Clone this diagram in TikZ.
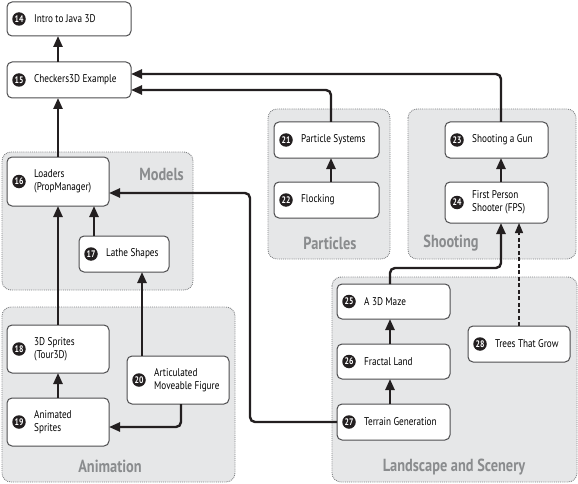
\documentclass[tikz,border=0pt]{standalone}
\usepackage{fontspec}
\setmainfont[FakeStretch=0.82]{PT Sans}
\usetikzlibrary{arrows.meta,calc}
\definecolor{grpfill}{HTML}{E6E7E8}
\definecolor{grpline}{HTML}{808285}
\definecolor{boxline}{HTML}{4D4D4F}
\definecolor{arrcol}{HTML}{231F20}
\definecolor{grplabel}{HTML}{8A8C8E}
\tikzset{
  grp/.style={fill=grpfill, draw=grpline, densely dotted, line width=0.9pt, rounded corners=9pt},
  grplbl/.style={font=\fontsize{17.5}{18}\selectfont\bfseries, text=grplabel, inner sep=0pt},
  box/.style={draw=boxline, fill=white, line width=1pt, rounded corners=5pt, inner sep=0pt, outer sep=0pt},
  numc/.style={circle, fill=arrcol, text=white, minimum size=13.5pt, inner sep=0pt, font=\fontsize{9.5}{10}\selectfont\bfseries},
  lbl/.style={anchor=west, align=left, inner sep=0pt, font=\fontsize{11.2}{12.6}\selectfont, text=black},
  arr/.style={draw=arrcol, line width=2.4pt, -{Triangle[width=9pt,length=11pt]}, rounded corners=5pt},
  darr/.style={draw=arrcol, line width=1.3pt, dash pattern=on 4pt off 2.5pt, -{Triangle[width=8pt,length=10pt]}},
}
\newcommand\chbox[7]{%
  \node[box, minimum width={(#4-#2)*1pt}, minimum height={(#5-#3)*1pt}] (#1) at ({(#2+#4)/2},{(#3+#5)/2}) {};
  \node[numc] (#1num) at ([xshift=12pt]#1.west) {#6};
  \node[lbl] (#1txt) at ([xshift=27pt]#1.west) {#7};}
\begin{document}
\begin{tikzpicture}[x=1pt,y=-1pt]
\useasboundingbox (0,0) rectangle (578,484);
% groups
\path[grp] (2,152) rectangle (193,290);
\path[grp] (2,307) rectangle (235,482);
\path[grp] (268,109) rectangle (390,259);
\path[grp] (408,109) rectangle (576,259);
\path[grp] (332,277) rectangle (577,482);
\node[grplbl, anchor=east] (gmodels) at (184,174) {Models};
\node[grplbl] (ganim) at (110,466) {Animation};
\node[grplbl] (gpart) at (330,243) {Particles};
\node[grplbl] (gshoot) at (451,243) {Shooting};
\node[grplbl] (gland) at (454,467) {Landscape and Scenery};
% boxes
\chbox{n14}{7}{2}{131}{36}{14}{Intro to Java 3D}
\chbox{n15}{7}{62}{131}{98}{15}{Checkers3D Example}
\chbox{n16}{7}{157}{109}{206}{16}{Loaders\\(PropManager)}
\chbox{n17}{79}{236}{169}{272}{17}{Lathe Shapes}
\chbox{n18}{7}{325}{109}{373}{18}{3D Sprites\\(Tour3D)}
\chbox{n19}{7}{398}{109}{446}{19}{Animated\\Sprites}
\chbox{n20}{127}{356}{229}{404}{20}{Articulated\\Moveable Figure}
\chbox{n21}{274}{122}{379}{158}{21}{Particle Systems}
\chbox{n22}{274}{182}{379}{218}{22}{Flocking}
\chbox{n23}{445}{122}{548}{158}{23}{Shooting a Gun}
\chbox{n24}{445}{182}{548}{223}{24}{First Person\\Shooter (FPS)}
\chbox{n25}{337}{284}{450}{319}{25}{A 3D Maze}
\chbox{n26}{337}{344}{450}{379}{26}{Fractal Land}
\chbox{n27}{337}{404}{450}{440}{27}{Terrain Generation}
\chbox{n28}{468}{326}{570}{362}{28}{Trees That Grow}
% column / row helpers
\coordinate (cA) at (58,0);
\coordinate (cB) at (94,0);
\coordinate (cC) at (142,0);
\coordinate (cD) at (181,0);
\coordinate (cE) at (331,0);
\coordinate (cF) at (501,0);
\coordinate (cG) at (519,0);
\coordinate (cH) at (390,0);
\coordinate (cV) at (250,0);
\coordinate (r74) at (0,74);
\coordinate (r90) at (0,90);
\coordinate (r193) at (0,193);
\coordinate (r268) at (0,268);
\coordinate (r427) at (0,427);
% connectors
\draw[arr] (n15.north -| cA) -- (n14.south -| cA);
\draw[arr] (n16.north -| cA) -- (n15.south -| cA);
\draw[arr] (n17.north -| cB) -- (n16.south -| cB);
\draw[arr] (n18.north -| cA) -- (n16.south -| cA);
\draw[arr] (n19.north -| cA) -- (n18.south -| cA);
\draw[arr] (n20.north -| cC) -- (n17.south -| cC);
\draw[arr] (n20.south -| cD) |- (n19.east |- r427);
\draw[arr] (n22.north -| cE) -- (n21.south -| cE);
\draw[arr] (n21.north -| cE) |- (n15.east |- r90);
\draw[arr] (n23.north -| cF) |- (n15.east |- r74);
\draw[arr] (n24.north -| cF) -- (n23.south -| cF);
\draw[arr] (n25.north -| cH) |- (cF |- r268) -- (n24.south -| cF);
\draw[arr] (n26.north -| cH) -- (n25.south -| cH);
\draw[arr] (n27.north -| cH) -- (n26.south -| cH);
\draw[darr] (n28.north -| cG) -- (n24.south -| cG);
\draw[arr] (n27.west) -| (cV |- r193) -- (n16.east |- r193);
\end{tikzpicture}
\end{document}
